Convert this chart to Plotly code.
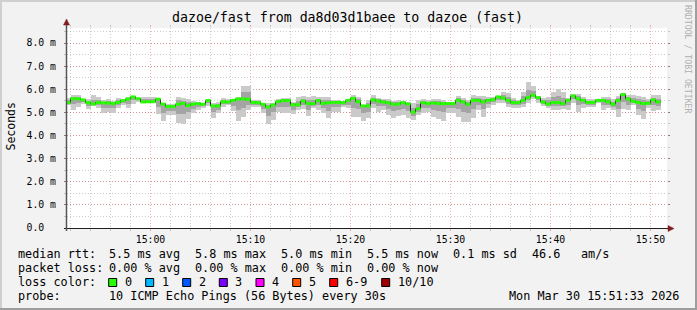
import plotly.graph_objects as go
import pandas as pd

# ---------------- data ----------------
start_time = "2026-03-30 14:51:30"   # first 30 s step
view_start = "2026-03-30 14:51:39"
view_end = "2026-03-30 15:51:39"

median = [5.42, 5.59, 5.59, 5.54, 5.42, 5.36, 5.43, 5.41, 5.41, 5.38,
          5.43, 5.51, 5.58, 5.67, 5.59, 5.45, 5.46, 5.46, 5.57, 5.36,
          5.25, 5.25, 5.35, 5.39, 5.29, 5.36, 5.38, 5.35, 5.51, 5.28,
          5.28, 5.46, 5.45, 5.52, 5.58, 5.58, 5.57, 5.43, 5.42, 5.35,
          5.23, 5.32, 5.46, 5.51, 5.51, 5.33, 5.33, 5.49, 5.38, 5.38,
          5.51, 5.38, 5.42, 5.43, 5.43, 5.42, 5.52, 5.61, 5.46, 5.28,
          5.28,
          5.54, 5.49, 5.45, 5.42, 5.35, 5.36, 5.42, 5.36, 5.01, 5.16,
          5.42, 5.38, 5.41, 5.38, 5.38, 5.38, 5.38, 5.52, 5.45, 5.35,
          5.52, 5.52, 5.45, 5.52, 5.55, 5.67, 5.62, 5.52, 5.42, 5.42,
          5.52, 5.64, 5.74, 5.64, 5.45, 5.36, 5.42, 5.43, 5.38, 5.52,
          5.71, 5.59, 5.52, 5.43, 5.43, 5.52, 5.52, 5.46, 5.36, 5.51,
          5.77, 5.58, 5.48, 5.43, 5.38, 5.39, 5.54, 5.45]

smoke_hi = [5.61, 5.77, 5.74, 5.57, 5.59, 5.75, 5.67, 5.52, 5.59, 5.51,
            5.61, 5.54, 5.65, 5.71, 5.64, 5.68, 5.68, 5.68, 5.58, 5.42,
            5.36, 5.36, 5.68, 5.62, 5.59, 5.49, 5.46, 5.42, 5.58, 5.39,
            5.43, 5.64, 5.57, 5.58, 5.65, 6.14, 6.14, 5.52, 5.54, 5.42,
            5.42, 5.39, 5.58, 5.64, 5.64, 5.46, 5.68, 5.71, 5.68, 5.71,
            5.68, 5.68, 5.68, 5.54, 5.54, 5.51, 5.57, 5.75, 5.65, 5.32,
            5.54,
            5.75, 5.64, 5.59, 5.57, 5.51, 5.54, 5.51, 5.46, 5.39, 5.54,
            5.57, 5.54, 5.59, 5.57, 5.54, 5.46, 5.39, 5.71, 5.61, 5.54,
            5.75, 5.71, 5.71, 5.68, 5.68, 5.72, 5.86, 5.83, 5.61, 5.54,
            5.86, 6.30, 6.12, 5.71, 5.64, 5.68, 5.90, 6.00, 5.87, 5.64,
            5.78, 5.80, 5.65, 5.57, 5.57, 5.54, 5.65, 5.68, 5.58, 5.72,
            5.83, 5.74, 5.74, 5.71, 5.68, 5.57, 5.75, 5.75]

smoke_lo = [5.32, 5.10, 5.25, 5.35, 5.16, 5.28, 5.17, 4.96, 5.01, 4.99,
            5.17, 5.32, 5.17, 5.36, 5.46, 5.39, 5.41, 5.41, 4.91, 4.62,
            4.88, 4.88, 4.55, 4.48, 4.72, 4.96, 5.10, 5.17, 5.29, 4.77,
            4.96, 5.25, 5.32, 5.06, 4.62, 4.81, 5.10, 5.22, 5.25, 4.96,
            4.48, 4.67, 5.00, 4.96, 4.96, 4.91, 5.10, 5.13, 4.84, 5.17,
            5.10, 4.96, 4.74, 5.03, 5.03, 5.25, 5.17, 4.81, 4.81, 4.64,
            4.74,
            5.17, 5.03, 5.10, 4.88, 4.77, 4.84, 4.88, 4.74, 4.67, 4.88,
            4.96, 5.03, 4.81, 4.70, 4.62, 4.96, 4.99, 4.81, 4.57, 4.59,
            4.74, 5.10, 4.81, 5.20, 5.32, 5.39, 5.42, 5.25, 5.17, 5.20,
            5.25, 5.42, 5.57, 5.42, 5.28, 5.20, 5.10, 5.10, 5.13, 5.10,
            5.42, 5.03, 5.20, 5.25, 5.25, 5.42, 5.10, 5.17, 5.10, 4.78,
            5.13, 5.10, 5.32, 4.88, 4.70, 5.20, 5.07, 5.10]

inner_hi = [5.52, 5.68, 5.66, 5.56, 5.50, 5.55, 5.55, 5.46, 5.50, 5.45,
            5.52, 5.53, 5.62, 5.69, 5.62, 5.56, 5.57, 5.57, 5.58, 5.39,
            5.30, 5.30, 5.52, 5.50, 5.44, 5.42, 5.42, 5.38, 5.54, 5.34,
            5.35, 5.55, 5.51, 5.55, 5.62, 5.86, 5.86, 5.48, 5.48, 5.38,
            5.33, 5.36, 5.52, 5.58, 5.58, 5.40, 5.50, 5.60, 5.53, 5.55,
            5.60, 5.53, 5.55, 5.48, 5.48, 5.46, 5.54, 5.68, 5.56, 5.30,
            5.41,
            5.64, 5.56, 5.52, 5.50, 5.43, 5.45, 5.46, 5.41, 5.20, 5.35,
            5.50, 5.46, 5.50, 5.48, 5.46, 5.42, 5.39, 5.62, 5.53, 5.45,
            5.64, 5.62, 5.58, 5.60, 5.62, 5.70, 5.74, 5.68, 5.52, 5.48,
            5.69, 5.97, 5.93, 5.68, 5.55, 5.52, 5.66, 5.72, 5.62, 5.58,
            5.74, 5.70, 5.58, 5.50, 5.50, 5.53, 5.58, 5.57, 5.47, 5.62,
            5.80, 5.66, 5.61, 5.57, 5.53, 5.48, 5.64, 5.60]

inner_lo = [5.37, 5.35, 5.42, 5.45, 5.29, 5.32, 5.30, 5.19, 5.21, 5.19,
            5.30, 5.42, 5.38, 5.52, 5.52, 5.42, 5.44, 5.44, 5.24, 4.99,
            5.07, 5.07, 4.95, 4.94, 5.01, 5.16, 5.24, 5.26, 5.40, 5.03,
            5.12, 5.36, 5.38, 5.29, 5.10, 5.20, 5.34, 5.33, 5.34, 5.16,
            4.86, 5.00, 5.23, 5.24, 5.24, 5.12, 5.22, 5.31, 5.11, 5.28,
            5.30, 5.17, 5.08, 5.23, 5.23, 5.34, 5.34, 5.21, 5.13, 4.96,
            5.01,
            5.36, 5.26, 5.28, 5.15, 5.06, 5.10, 5.15, 5.05, 4.84, 5.02,
            5.19, 5.20, 5.11, 5.04, 5.00, 5.17, 5.18, 5.16, 5.01, 4.97,
            5.13, 5.31, 5.13, 5.36, 5.44, 5.53, 5.52, 5.38, 5.30, 5.31,
            5.38, 5.53, 5.66, 5.53, 5.36, 5.28, 5.26, 5.26, 5.26, 5.31,
            5.56, 5.31, 5.36, 5.34, 5.34, 5.47, 5.31, 5.32, 5.23, 5.14,
            5.45, 5.34, 5.40, 5.16, 5.04, 5.30, 5.30, 5.28]

y_tick_values = [0, 1, 2, 3, 4, 5, 6, 7, 8]
y_tick_labels = ["0.0\u00a0\u00a0", "1.0 m", "2.0 m", "3.0 m", "4.0 m",
                 "5.0 m", "6.0 m", "7.0 m", "8.0 m"]

title_text = "dazoe/fast from da8d03d1baee to dazoe (fast)"
stat_rows = [
    ["median rtt:", "5.5 ms avg", "5.8 ms max", "5.0 ms min", "5.5 ms now", "0.1 ms sd", "46.6", "am/s"],
    ["packet loss:", "0.00 % avg", "0.00 % max", "0.00 % min", "0.00 % now"],
]
loss_labels = ["0", "1", "2", "3", "4", "5", "6-9", "10/10"]
loss_colors = ["#26ff00", "#00b8ff", "#0059ff", "#7e00ff", "#ff00ff", "#ff5500", "#ff0000", "#a10000"]
probe_text = "10 ICMP Echo Pings (56 Bytes) every 30s"
stamp_text = "Mon Mar 30 15:51:33 2026"

# ---------------- layout helpers ----------------
W, H = 697, 310
L, R, T, B = 67, 30, 28, 82
PW, PH = W - L - R, H - T - B


def px(X):
    return (X - L) / PW


def py(Y):
    return (H - B - Y) / PH


MONO = "DejaVu Sans Mono"
GRID = "rgba(143,143,143,0.45)"
MGRID = "rgba(222,79,79,0.45)"
TICK = "rgba(110,110,110,0.8)"
AXIS = "#1f1f1f"
ARROW = "#801f1f"

times = pd.date_range(start_time, periods=len(median), freq="30s")
step_ms = 30000

fig = go.Figure()

# smoke, outer then inner
fig.add_bar(x=times, base=smoke_lo, y=[h - l for h, l in zip(smoke_hi, smoke_lo)],
            width=step_ms, offset=0, marker=dict(color="#cacaca", line=dict(width=0)),
            hoverinfo="skip")
fig.add_bar(x=times, base=inner_lo, y=[h - l for h, l in zip(inner_hi, inner_lo)],
            width=step_ms, offset=0, marker=dict(color="#a4a4a4", line=dict(width=0)),
            hoverinfo="skip")

# median: dark step line + green loss-coloured segments
end_time = times[-1] + pd.Timedelta(seconds=30)
fig.add_scatter(x=list(times) + [end_time], y=median + [median[-1]], mode="lines",
                line=dict(color="#202020", width=1, shape="hv"), hoverinfo="skip")
gx, gy = [], []
for i, m in enumerate(median):
    t1 = times[i + 1] if i + 1 < len(times) else end_time
    gx += [times[i], t1, None]
    gy += [m, m, None]
fig.add_scatter(x=gx, y=gy, mode="lines", line=dict(color=loss_colors[0], width=3),
                hoverinfo="skip")

fig.update_layout(
    width=W, height=H, autosize=False,
    margin=dict(l=L, r=R, t=T, b=B, pad=0),
    paper_bgcolor="#f2f2f2", plot_bgcolor="#ffffff",
    showlegend=False, barmode="overlay", bargap=0,
    font=dict(family=MONO, color="#000000", size=10),
)

fig.update_xaxes(
    type="date", range=[view_start, view_end],
    tick0="2026-03-30 15:00:00", dtick=600000, tickformat="%H:%M",
    showgrid=True, gridcolor=MGRID, griddash="1px,2px", gridwidth=1,
    ticks="outside", ticklen=2, tickcolor=MGRID, mirror="ticks",
    tickfont=dict(family=MONO, size=9.8, color="#000000"),
    showline=False, zeroline=False, fixedrange=True,
    minor=dict(dtick=120000, tick0="2026-03-30 15:00:00", showgrid=True,
               gridcolor=GRID, griddash="1px,2px", ticks="outside", ticklen=2,
               tickcolor=GRID),
)
fig.update_yaxes(
    range=[0, 200 / 23.125], tickvals=y_tick_values, ticktext=y_tick_labels,
    showgrid=True, gridcolor=MGRID, griddash="1px,2px", gridwidth=1,
    ticks="outside", ticklen=2, tickcolor=TICK, mirror="ticks",
    tickfont=dict(family=MONO, size=9.8, color="#000000"),
    ticklabelstandoff=6,
    showline=False, zeroline=False, fixedrange=True,
    minor=dict(dtick=0.5, showgrid=True, gridcolor=GRID, griddash="1px,2px",
               ticks="outside", ticklen=2, tickcolor=GRID),
)

shapes = []
# 3D frame
shapes.append(dict(type="rect", xref="paper", yref="paper", x0=px(0), x1=px(W), y0=py(0), y1=py(2),
                   fillcolor="#cfcfcf", line=dict(width=0), layer="above"))
shapes.append(dict(type="rect", xref="paper", yref="paper", x0=px(0), x1=px(2), y0=py(0), y1=py(H),
                   fillcolor="#cfcfcf", line=dict(width=0), layer="above"))
shapes.append(dict(type="rect", xref="paper", yref="paper", x0=px(0), x1=px(W), y0=py(H - 2), y1=py(H),
                   fillcolor="#9e9e9e", line=dict(width=0), layer="above"))
shapes.append(dict(type="rect", xref="paper", yref="paper", x0=px(W - 2), x1=px(W), y0=py(0), y1=py(H),
                   fillcolor="#9e9e9e", line=dict(width=0), layer="above"))
# axes
shapes.append(dict(type="line", xref="paper", yref="paper", x0=px(64), x1=px(670), y0=py(228.5), y1=py(228.5),
                   line=dict(color=AXIS, width=1), layer="above"))
shapes.append(dict(type="line", xref="paper", yref="paper", x0=px(66.5), x1=px(66.5), y0=py(231), y1=py(24),
                   line=dict(color="#555555", width=1.5), layer="above"))
# arrows
shapes.append(dict(type="path", xref="paper", yref="paper",
                   path=f"M {px(63.5)},{py(25)} L {px(69.5)},{py(25)} L {px(66.5)},{py(19)} Z",
                   fillcolor=ARROW, line=dict(color=ARROW, width=0.5), layer="above"))
shapes.append(dict(type="path", xref="paper", yref="paper",
                   path=f"M {px(668)},{py(225.5)} L {px(668)},{py(231.5)} L {px(674)},{py(228.5)} Z",
                   fillcolor=ARROW, line=dict(color=ARROW, width=0.5), layer="above"))

annotations = []


def txt(text, X, Y, size=11.8, xanchor="left", color="#000000", angle=0):
    annotations.append(dict(text=text, x=px(X), y=py(Y), xref="paper", yref="paper",
                            xanchor=xanchor, yanchor="middle", showarrow=False,
                            textangle=angle,
                            font=dict(family=MONO, size=size, color=color)))


txt(title_text, 347.5, 18, size=13.25, xanchor="center")
txt("Seconds", 10.5, 127, size=11.5, xanchor="center", angle=-90)
txt("RRDTOOL / TOBI OETIKER", 688, 59, size=8.2, xanchor="center", color="#b0b0b0", angle=90)

col_x = [16, 107, 193, 279, 365, 451, 530, 579]
row_y = [254, 268, 282, 296]
for r, row in enumerate(stat_rows):
    for c, item in enumerate(row):
        txt(item, col_x[c], row_y[r])

txt("loss color:", 16, row_y[2])
sq_x = [108.7, 145.7, 182.7, 219.3, 256, 292.7, 329.7, 381.7]
for lbl, colr, sx in zip(loss_labels, loss_colors, sq_x):
    shapes.append(dict(type="rect", xref="paper", yref="paper",
                       x0=px(sx), x1=px(sx + 8), y0=py(row_y[2] + 4.5), y1=py(row_y[2] - 3.5),
                       fillcolor=colr, line=dict(color="#000000", width=1), layer="above"))
    txt(lbl, sx + 14, row_y[2])

txt("probe:", 16, row_y[3])
txt(probe_text, 107, row_y[3])
txt(stamp_text, 681, row_y[3], xanchor="right")

fig.update_layout(shapes=shapes, annotations=annotations)
fig.write_html("out.html")
